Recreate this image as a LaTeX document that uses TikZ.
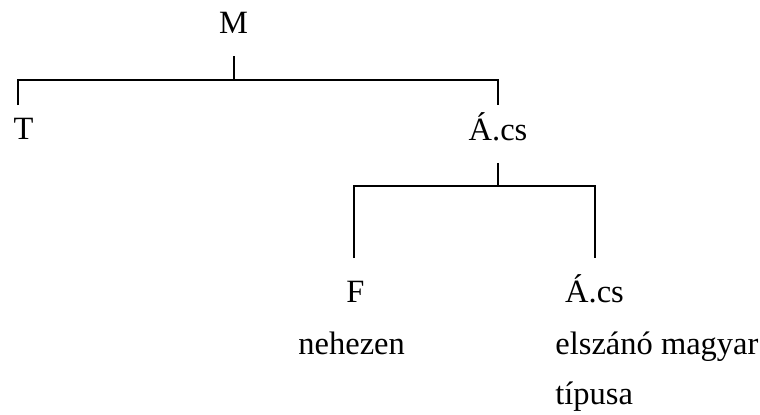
\documentclass[tikz,border=0pt]{standalone}
\usepackage{fontspec}
\setmainfont{Liberation Serif}
\usetikzlibrary{calc}

\begin{document}
\begin{tikzpicture}[x=.5pt, y=-.5pt, every node/.style={inner sep=0, font=\fontsize{16.25}{19.5}\selectfont}]
\useasboundingbox (0,0) rectangle (760,414);
\node[anchor=base] (m) at (233.5,33) {M};
\node[anchor=base] (t) at (23.5,139) {T};
\node[anchor=base] (acs) at (498,140) {Á.cs};
\node[anchor=base] (f) at (355.5,302) {F};
\node[anchor=base] (acsb) at (594.5,302) {Á.cs};
\node[anchor=base west] (nehezen) at (298,354) {nehezen};
\node[anchor=base west] (elszano) at (555,354) {elszánó magyar};
\node[anchor=base west] (tipusa) at (555,404) {típusa};
\coordinate (mj) at (233.5,80);
\coordinate (tj) at (17.7,105);
\coordinate (aj) at (498,105);
\coordinate (acsj) at (498,186);
\coordinate (fj) at (354,258);
\coordinate (bj) at (595,258);
\draw[black, line width=1pt] (m.south) ++(0,23) -- (mj);
\draw[black, line width=1pt] (tj) |- (mj) -| (aj);
\draw[black, line width=1pt] (acs.south) ++(0,22) -- (acsj);
\draw[black, line width=1pt] (fj) |- (acsj) -| (bj);
\end{tikzpicture}
\end{document}
